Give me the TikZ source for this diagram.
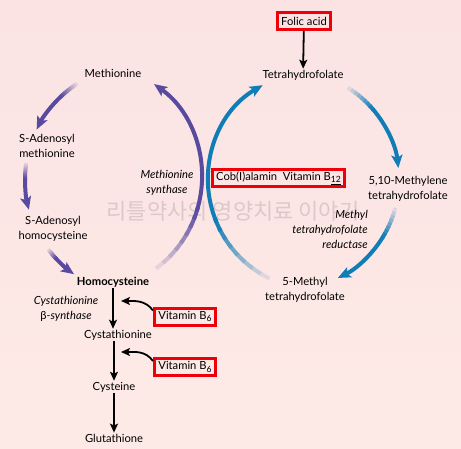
\documentclass[tikz,border=0pt]{standalone}
\usepackage{fontspec}
\setmainfont{Lato}
\newfontfamily\krfont{Noto Sans CJK KR}
\usetikzlibrary{arrows.meta,calc}
\definecolor{bgA}{RGB}{251,227,228}
\definecolor{bgB}{RGB}{253,234,230}
\definecolor{purp}{RGB}{88,74,158}
\definecolor{blu}{RGB}{16,125,182}
\definecolor{boxred}{RGB}{238,0,8}
\newcommand\mysubs[1]{\raisebox{-2.6pt}{\fontsize{8.6}{9}\selectfont #1}}
\newcommand\fadearc[5]{%
  \pgfmathsetmacro\fdA{#4}%
  \pgfmathsetmacro\fdD{(#5-#4)/24}%
  \foreach \k in {0,...,7}{%
    \pgfmathsetmacro\fdS{\fdA+\k*\fdD}%
    \pgfmathsetmacro\fdE{1.4*\fdD}%
    \pgfmathtruncatemacro\fdP{12*(\k+1)}%
    \draw[line width=4pt, color=#1!\fdP!bgA] ($(#2)+(\fdS:#3)$) arc[start angle=\fdS, delta angle=\fdE, radius=#3];
  }%
  \pgfmathsetmacro\fdB{\fdA+8*\fdD}%
  \draw[line width=4pt, color=#1, -{Stealth[length=13pt,width=11pt,inset=3pt]}] ($(#2)+(\fdB:#3)$) arc[start angle=\fdB, end angle=#5, radius=#3];
}
\tikzset{
  lbl/.style={font=\fontsize{11.2}{15}\selectfont, align=center, inner sep=1pt, text=black},
  enz/.style={font=\fontsize{11.2}{15}\selectfont\itshape, align=center, inner sep=1pt},
  redbox/.style={draw=boxred, line width=3pt, inner xsep=4pt, inner ysep=0pt, minimum height=17pt, font=\fontsize{11.2}{15}\selectfont},
  blk/.style={line width=1.8pt, -{Stealth[length=9pt,width=8pt,inset=2pt]}},
}
\begin{document}
\begin{tikzpicture}[x=1pt,y=1pt]
\useasboundingbox (0,0) rectangle (461,448);
\shade[top color=bgA, bottom color=bgB] (0,0) rectangle (461,448);
\node[font=\krfont\fontsize{22}{22}\selectfont, text=black!12!bgA] (wm) at (233,237) {리틀약사의 영양치료 이야기};
% arc centres
\coordinate (cpb) at (88,271);
\coordinate (cpl) at (140,268);
\coordinate (cbb) at (317.5,268);
\coordinate (cbr) at (290,268);
% purple arcs
\fadearc{purp}{cpb}{114}{-53.4}{54.6}
\fadearc{purp}{cpl}{115}{123}{154}
\fadearc{purp}{cpl}{115}{171.4}{195}
\fadearc{purp}{cpl}{115}{217}{235}
% blue arcs
\fadearc{blu}{cbb}{109.5}{244}{120}
\fadearc{blu}{cbr}{109}{58}{6.3}
\fadearc{blu}{cbr}{109}{-14.8}{-64}
% nodes
\node[redbox] (folic) at (304,427) {Folic acid};
\node[lbl] (thf) at (303,373) {Tetrahydrofolate};
\node[lbl] (met) at (113,375) {Methionine};
\node[lbl] (sam) at (47,302) {S-Adenosyl\\methionine};
\node[lbl] (sah) at (53,219.5) {S-Adenosyl\\homocysteine};
\node[lbl, font=\fontsize{11.2}{15}\selectfont\bfseries] (hcy) at (113,166) {Homocysteine};
\node[enz] (cbs) at (66,139.5) {Cystathionine\\{\upshape β}-synthase};
\node[lbl] (cysta) at (118,113) {Cystathionine};
\node[redbox] (vb1) at (185,131.5) {Vitamin B\mysubs{6}};
\node[redbox] (vb2) at (185,81) {Vitamin B\mysubs{6}};
\node[lbl] (cys) at (114,61) {Cysteine};
\node[lbl] (glu) at (114,10) {Glutathione};
\node[lbl] (mthf) at (408,259.5) {5,10-Methylene\\tetrahydrofolate};
\node[enz, align=right, anchor=east] (mthfr) at (369,218.5) {Methyl\\tetrahydrofolate\\reductase};
\node[lbl] (fmthf) at (305,158.5) {5-Methyl\\tetrahydrofolate};
\node[redbox] (cob) at (278.5,270) {Cob(I)alamin\hspace{0.5em}Vitamin B\mysubs{\underline{12}}};
\node[enz] (ms) at (167,265.5) {Methionine\\synthase};
% black arrows
\draw[blk] (folic) -- (thf);
\draw[blk] (hcy.south) -- (hcy.south |- cysta.north);
\draw[blk] (cys.north |- cysta.south) -- (cys.north);
\draw[blk] (cys) -- (glu);
\coordinate (t1) at (121,147);
\coordinate (t2) at (121,96);
\draw[blk] ($(vb1.west)+(0,6)$) to[out=125,in=0] (t1);
\draw[blk] ($(vb2.west)+(0,6)$) to[out=125,in=0] (t2);
\end{tikzpicture}
\end{document}
